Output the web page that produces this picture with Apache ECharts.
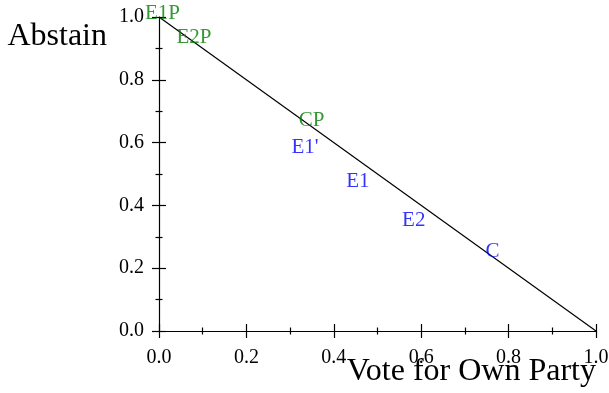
<!DOCTYPE html>
<html>
<head>
<meta charset="utf-8">
<script src="https://cdn.jsdelivr.net/npm/echarts@6/dist/echarts.min.js"></script>
<style>
  html, body { margin: 0; padding: 0; background: #fff; }
  #chart { width: 609px; height: 393px; }
</style>
</head>
<body>
<div id="chart"></div>
<script>
// Budget line: share of votes for own party vs. abstention
const lineX = [0, 1];
const lineY = [1, 0];

// Labelled equilibrium points (party versions in green)
const partyNames = ['E1P', 'E2P', 'CP'];
const partyX = [0.008, 0.080, 0.349];
const partyY = [1.011, 0.936, 0.670];

const pointNames = ["E1'", 'E1', 'E2', 'C'];
const pointX = [0.334, 0.455, 0.583, 0.763];
const pointY = [0.583, 0.477, 0.353, 0.253];

const serif = '"Liberation Serif", "DejaVu Serif", serif';
const black = { color: '#000', width: 1.2 };
const MAJOR = 14;   // full length of a major tick, centred on the axis
const MINOR = 7;    // full length of a minor tick

function pts(xs, ys, names) {
  return xs.map((x, i) => ({ value: [x, ys[i]], name: names[i] }));
}

// The first axis carries the line, labels and name; two twins, shifted
// half a tick length inwards, draw the major and minor ticks so that
// every tick crosses the axis line.
function axes(dim, name, nameStyle, labelMargin) {
  const base = {
    type: 'value', min: 0, max: 1, interval: 0.2,
    splitLine: { show: false },
    minorSplitLine: { show: false },
    position: dim === 'x' ? 'bottom' : 'left',
    axisLabel: { show: false },
    axisLine: { show: false, onZero: false },
    axisTick: { show: false },
    minorTick: { show: false }
  };
  return [
    Object.assign({}, base, {
      axisLine: { show: true, onZero: false, lineStyle: black },
      axisLabel: { show: true, color: '#000', fontFamily: serif, fontSize: 20,
        margin: labelMargin, formatter: v => v.toFixed(1) },
      name: name, nameLocation: 'end', nameGap: 0, nameMoveOverlap: false,
      nameTextStyle: nameStyle
    }),
    Object.assign({}, base, {
      offset: -MAJOR / 2,
      axisTick: { show: true, length: MAJOR, lineStyle: black }
    }),
    Object.assign({}, base, {
      offset: -MINOR / 2,
      minorTick: { show: true, splitNumber: 2, length: MINOR, lineStyle: black }
    })
  ];
}

const chart = echarts.init(document.getElementById('chart'));
chart.setOption({
  animation: false,
  grid: { left: 159, right: 13, top: 17, bottom: 62, containLabel: false, outerBoundsMode: 'none' },
  xAxis: axes('x', 'Vote for Own Party', {
    color: '#000', fontFamily: serif, fontSize: 32,
    align: 'right', verticalAlign: 'top', padding: [25, 0, 0, 0]
  }, 17),
  yAxis: axes('y', 'Abstain', {
    color: '#000', fontFamily: serif, fontSize: 32,
    align: 'right', verticalAlign: 'top', padding: [4, 52, 0, 0]
  }, 15),
  series: [
    {
      type: 'line',
      data: lineX.map((x, i) => [x, lineY[i]]),
      symbol: 'none',
      lineStyle: { color: '#000', width: 1.2 },
      z: 2
    },
    {
      type: 'scatter',
      data: pts(partyX, partyY, partyNames),
      symbolSize: 0,
      clip: false,
      label: { show: true, position: 'inside', formatter: p => p.name,
        color: '#008000', fontFamily: serif, fontSize: 21 },
      z: 3
    },
    {
      type: 'scatter',
      data: pts(pointX, pointY, pointNames),
      symbolSize: 0,
      clip: false,
      label: { show: true, position: 'inside', formatter: p => p.name,
        color: '#0000ff', fontFamily: serif, fontSize: 21 },
      z: 3
    }
  ]
});
</script>
</body>
</html>
